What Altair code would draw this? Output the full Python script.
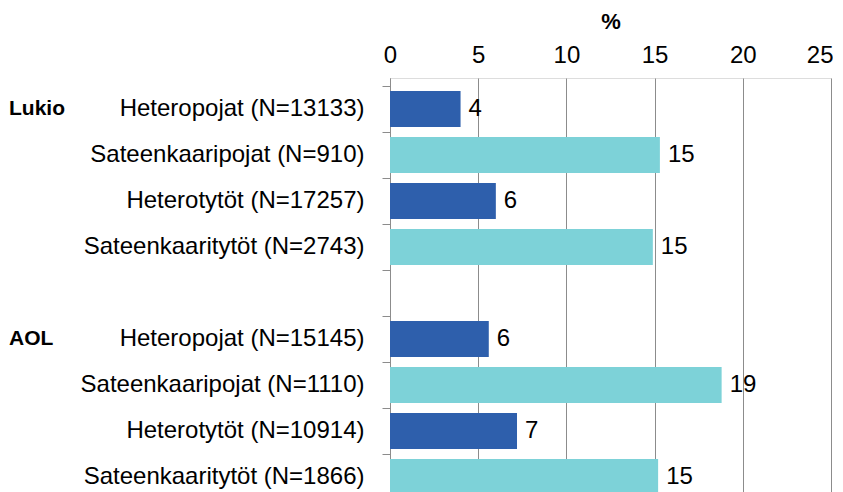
import altair as alt
import pandas as pd

# --- data ---
rows = [
    "Heteropojat (N=13133)", "Sateenkaaripojat (N=910)", "Heterotytöt (N=17257)", "Sateenkaaritytöt (N=2743)",
    " ",
    "Heteropojat (N=15145)", "Sateenkaaripojat (N=1110)", "Heterotytöt (N=10914)", "Sateenkaaritytöt (N=1866)",
]
bar_rows = [r for r in rows if r.strip()]
values = [4.0, 15.3, 6.0, 14.9, 5.6, 18.8, 7.2, 15.2]
types = ["Hetero", "Sateenkaari", "Hetero", "Sateenkaari", "Hetero", "Sateenkaari", "Hetero", "Sateenkaari"]
group_names = ["Lukio", "AOL"]
group_rows = ["Heteropojat (N=13133)", "Heteropojat (N=15145)"]
x_ticks = [0, 5, 10, 15, 20, 25]

df = pd.DataFrame({"rivi": bar_rows, "arvo": values, "tyyppi": types})
df["nimi"] = df["arvo"].round(0).astype(int).astype(str)
gdf = pd.DataFrame({"rivi": group_rows, "ryhma": group_names})

FONT = "Liberation Sans"
GRAY = "#8c8c8c"
STEP = 46
PAD_OUT = 8 / STEP
FS = 24

yscale = alt.Scale(domain=rows, paddingInner=0, paddingOuter=PAD_OUT)
xscale = alt.Scale(domain=[0, 25], nice=False)

y_labels = alt.Y("rivi:N", scale=yscale, sort=rows, title=None,
                 axis=alt.Axis(orient="left", ticks=False, tickSize=0, domain=False,
                               labelFontSize=FS, labelColor="black", labelPadding=26,
                               labelFont=FONT, labelLimit=400))
y_ticks = alt.Y("rivi:N", scale=yscale, sort=rows, title=None,
                axis=alt.Axis(orient="left", labels=False, ticks=True, tickSize=8,
                              tickColor=GRAY, domain=True, domainColor=GRAY,
                              bandPosition=0))

x_enc = alt.X("arvo:Q", scale=xscale,
              axis=alt.Axis(orient="top", title="%", titleFontSize=22, titleFontWeight="bold",
                            titleFont=FONT, titleColor="black", titlePadding=10,
                            values=x_ticks, labelFontSize=FS, labelFont=FONT, labelColor="black",
                            labelPadding=11, labelFlush=False,
                            labelAlign=alt.condition("datum.value == 25", alt.value("right"), alt.value("center")),
                            labelOffset=alt.condition("datum.value == 25", alt.value(2), alt.value(0)),
                            ticks=False, tickSize=0,
                            domain=False, grid=True, gridColor=GRAY, gridWidth=1))

bars = alt.Chart(df).mark_bar(height={"band": 36 / STEP}).encode(
    x=x_enc,
    y=y_labels,
    color=alt.Color("tyyppi:N", scale=alt.Scale(domain=["Hetero", "Sateenkaari"],
                                               range=["#2E5FAC", "#7DD2D8"]), legend=None),
)

vals = alt.Chart(df).mark_text(align="left", baseline="middle", dx=8, fontSize=FS,
                               font=FONT, color="black").encode(
    x=alt.X("arvo:Q", scale=xscale),
    y=y_ticks,
    text="nimi:N",
)

groups = alt.Chart(gdf).mark_text(align="left", baseline="middle", fontSize=21,
                                  fontWeight="bold", font=FONT, color="black").encode(
    x=alt.value(-381),
    y=alt.Y("rivi:N", scale=yscale, sort=rows, axis=None),
    text="ryhma:N",
)

chart = alt.layer(bars, vals, groups).resolve_axis(y="independent").properties(
    width=441, height=430,
    padding={"top": 2, "left": 1, "right": 0, "bottom": 0},
).configure_view(stroke=None).configure(font=FONT)

chart.save("out.html", embed_options={"renderer": "svg", "actions": False})
